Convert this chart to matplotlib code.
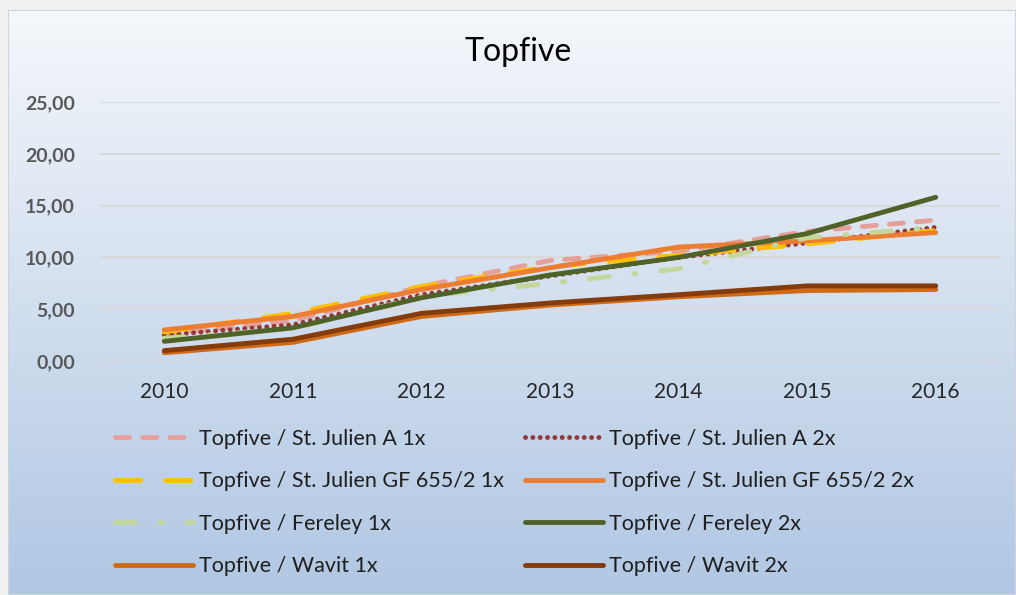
import numpy as np
import matplotlib
matplotlib.use("Agg")
import matplotlib.pyplot as plt
from matplotlib.patches import Rectangle

plt.rcParams['font.family'] = ['Lato', 'DejaVu Sans']

years = ["2010", "2011", "2012", "2013", "2014", "2015", "2016"]

julien_a_1x = [2.6, 3.9, 7.2, 9.7, 10.6, 12.5, 13.6]
julien_a_2x = [2.5, 3.5, 6.4, 8.2, 10.0, 11.4, 12.9]
julien_gf_1x = [2.8, 4.6, 7.2, 9.1, 10.2, 11.3, 12.6]
julien_gf_2x = [3.0, 4.3, 6.9, 9.0, 11.0, 11.6, 12.4]
fereley_1x = [2.2, 3.1, 6.2, 7.5, 8.9, 11.9, 12.9]
fereley_2x = [1.9, 3.2, 6.1, 8.3, 10.0, 12.3, 15.8]
wavit_1x = [0.8, 1.8, 4.3, 5.4, 6.2, 6.8, 6.9]
wavit_2x = [1.0, 2.1, 4.6, 5.6, 6.4, 7.25, 7.25]

labels_1x = ["Topfive / St. Julien A 1x", "Topfive / St. Julien GF 655/2 1x",
             "Topfive / Fereley 1x", "Topfive / Wavit 1x"]
labels_2x = ["Topfive / St. Julien A 2x", "Topfive / St. Julien GF 655/2 2x",
             "Topfive / Fereley 2x", "Topfive / Wavit 2x"]

W, H = 1016, 595
fig = plt.figure(figsize=(W / 100, H / 100), dpi=100)
fig.patch.set_facecolor("#f0f0f0")

# gradient background of the chart area
bg = fig.add_axes([8 / W, 0, 1 - 8 / W, 1 - 10 / H])
bg.set_axis_off()
grad = np.linspace(0, 1, 256).reshape(-1, 1)
top = np.array([0.96, 0.97, 0.985])
bot = np.array([0.69, 0.78, 0.89])
img = top + (bot - top) * grad[..., None]
bg.imshow(img, aspect="auto", extent=[0, 1, 0, 1])
bg.add_patch(Rectangle((0, 0), 1, 1, transform=bg.transAxes, fill=False,
                       edgecolor="#d0d4da", linewidth=1.5))

ax = fig.add_axes([100 / W, 1 - 361 / H, 900 / W, (361 - 102) / H])
ax.set_facecolor("none")
x = np.arange(len(years))
lw = 3.5

series = [
    (julien_a_1x, "#e6a09c", (0, (2.9, 2.7))),
    (julien_a_2x, "#953735", (0, (0.01, 1.5))),
    (julien_gf_1x, "#ffc000", (0, (5.2, 5.1))),
    (julien_gf_2x, "#ed7d31", "-"),
    (fereley_1x, "#c4d79b", (0, (4.1, 5.1, 0.45, 5.1))),
    (fereley_2x, "#4f6228", "-"),
    (wavit_1x, "#d06a14", "-"),
    (wavit_2x, "#843c0c", "-"),
]

handles = []
for vals, col, ls in series:
    h, = ax.plot(x, vals, color=col, linestyle=ls, linewidth=lw,
                 dash_capstyle="round", solid_capstyle="round",
                 solid_joinstyle="round")
    handles.append(h)

ax.set_xlim(-0.5, 6.5)
ax.set_ylim(0, 25)
ax.set_yticks(np.arange(0, 26, 5))
ax.set_yticklabels([f"{v:.2f}".replace(".", ",") for v in np.arange(0, 26, 5)],
                   fontsize=14, fontweight="bold", color="#595959")
ax.set_xticks(x)
ax.set_xticklabels(years, fontsize=15, color="#262626")
ax.tick_params(length=0)
ax.tick_params(axis="y", pad=18)
ax.tick_params(axis="x", pad=15)
ax.grid(axis="y", color="#d9d9d9", linewidth=1.5)
ax.set_axisbelow(True)
for s in ax.spines.values():
    s.set_visible(False)

fig.text(518 / W, 1 - 52 / H, "Topfive", ha="center", va="center",
         fontsize=23, color="#000000")

leg_kw = dict(frameon=False, fontsize=15.5, handlelength=3.6, handletextpad=0.3,
              labelspacing=1.04, labelcolor="#1f1f1f", borderaxespad=0,
              borderpad=0)
fig.legend(handles[0::2], labels_1x, loc="upper left",
           bbox_to_anchor=(115 / W, 1 - 429 / H), **leg_kw)
fig.legend(handles[1::2], labels_2x, loc="upper left",
           bbox_to_anchor=(525 / W, 1 - 429 / H), **leg_kw)

fig.savefig("out.png", dpi=100, facecolor=fig.get_facecolor())
